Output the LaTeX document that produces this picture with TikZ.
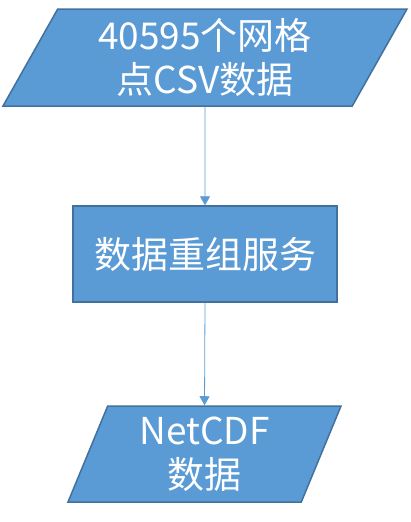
\documentclass[tikz,border=0pt]{standalone}
\usepackage{fontspec}
\setmainfont{Noto Sans CJK SC}
\usetikzlibrary{shapes.geometric, arrows.meta}
\definecolor{boxfill}{HTML}{5B9BD5}
\definecolor{boxline}{HTML}{41719C}

\begin{document}
\begin{tikzpicture}[x=1pt,y=-1pt]


% GLOBAL SETTINGS
\newcommand{\midx}{205}
\tikzset{
  base/.style={fill=boxfill, draw=boxline, line width=1.5pt, text=white,
    font=\fontsize{37}{44}\selectfont, align=center, inner sep=0pt},
  io/.style={base, trapezium, trapezium stretches body},
  proc/.style={base, rectangle, minimum width=264pt, minimum height=96pt},
  flow/.style={draw=boxfill, line width=0.8pt, -{Triangle[length=9pt, width=10pt]}},
}
\useasboundingbox (0,0) rectangle (410,522);

% NODES
\node[io, trapezium left angle=55, trapezium right angle=125,
  minimum width=404pt, minimum height=97pt] (csv) at (\midx,57.5) {40595个网格\\点CSV数据};
\node[proc] (regrid) at (\midx,254) {数据重组服务};
\node[io, trapezium left angle=62, trapezium right angle=118,
  minimum width=273pt, minimum height=96pt] (nc) at (204.5,454) {NetCDF\\数据};

% EDGES
\draw[flow] (csv.south) -- (regrid.north);
\draw[flow] (regrid.south) -- (nc.north);

\end{tikzpicture}
\end{document}
